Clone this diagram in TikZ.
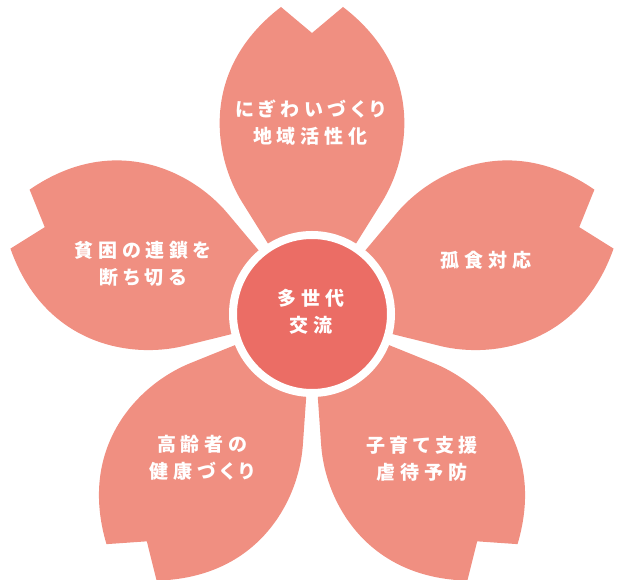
\documentclass[tikz,border=0pt]{standalone}
\usepackage{fontspec}
\usepackage{tikz}
\usetikzlibrary{positioning}
\newfontfamily\jpfont[RawFeature=+palt, LetterSpace=25]{Noto Sans CJK JP}
\definecolor{petalpink}{RGB}{240,143,129}
\definecolor{hubred}{RGB}{235,109,101}
\tikzset{
    petal/.style={fill=petalpink, draw=none},
    hub/.style={circle, fill=hubred, draw=white, line width=8pt, inner sep=0pt, minimum size=158pt},
    tag/.style={text=white, align=center, font=\jpfont\bfseries\fontsize{19}{27}\selectfont},
    pics/sakura/.style={code={
        \fill[petal] (0,0) -- (70,112) .. controls (99,159) and (112,245) .. (31,307) -- (0,281) -- (-31,307) .. controls (-112,245) and (-99,159) .. (-70,112) -- cycle;
    }},
}
\begin{document}
\begin{tikzpicture}[x=1pt, y=1pt]
            \useasboundingbox (0,0) rectangle (623,580);
            \coordinate (c) at (312,266);
            \pic[rotate=0] at (c) {sakura};
            \pic[rotate=72] at (c) {sakura};
            \pic[rotate=144] at (c) {sakura};
            \pic[rotate=216] at (c) {sakura};
            \pic[rotate=288] at (c) {sakura};
            \node [hub] (core) at (c) {};
            \node [tag] (cross) at (311,268) {多世代\\交流};
            \node [tag] (town) at (310,457) {にぎわいづくり\\地域活性化};
            \node [tag] (poverty) at (143,316) {貧困の連鎖を\\断ち切る};
            \node [tag] (meal) at (486,320) {孤食対応};
            \node [tag] (elder) at (202,122) {高齢者の\\健康づくり};
            \node [tag] (child) at (422,121) {子育て支援\\虐待予防};
        \end{tikzpicture}
\end{document}
